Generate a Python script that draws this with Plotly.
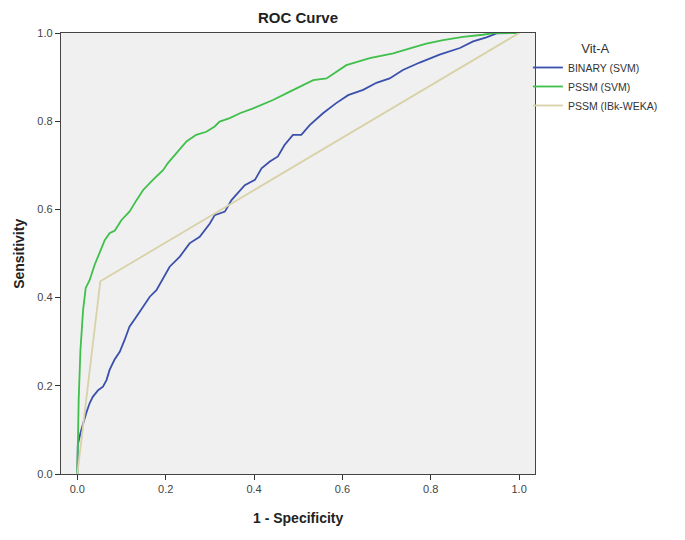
import plotly.graph_objects as go

# ---- data ----
binary_fpr = [0.0, 0.001, 0.007, 0.013, 0.02, 0.028, 0.035, 0.047, 0.058, 0.066, 0.073, 0.084,
              0.096, 0.107, 0.118, 0.134, 0.149, 0.164, 0.179, 0.194, 0.209, 0.232, 0.254,
              0.277, 0.3, 0.311, 0.334, 0.349, 0.368, 0.379, 0.402, 0.417, 0.435, 0.454,
              0.469, 0.488, 0.507, 0.526, 0.556, 0.586, 0.613, 0.647, 0.677, 0.707, 0.737,
              0.775, 0.82, 0.866, 0.896, 0.926, 0.949, 0.994, 1.0]
binary_tpr = [0.0, 0.066, 0.093, 0.116, 0.138, 0.161, 0.175, 0.19, 0.198, 0.213, 0.236, 0.259,
              0.277, 0.304, 0.334, 0.357, 0.379, 0.402, 0.417, 0.444, 0.47, 0.493, 0.523,
              0.538, 0.568, 0.587, 0.595, 0.621, 0.644, 0.655, 0.667, 0.693, 0.708, 0.72,
              0.746, 0.769, 0.769, 0.791, 0.818, 0.841, 0.859, 0.871, 0.887, 0.897, 0.916,
              0.933, 0.951, 0.966, 0.981, 0.99, 0.999, 1.0, 1.0]

pssm_svm_fpr = [0.0, 0.003, 0.007, 0.013, 0.019, 0.028, 0.039, 0.05, 0.062, 0.073, 0.085,
                0.1, 0.118, 0.134, 0.149, 0.171, 0.194, 0.205, 0.224, 0.247, 0.269, 0.292,
                0.311, 0.322, 0.345, 0.368, 0.398, 0.443, 0.481, 0.534, 0.564, 0.586, 0.609,
                0.662, 0.715, 0.753, 0.79, 0.828, 0.873, 0.918, 0.941, 1.0]
pssm_svm_tpr = [0.0, 0.168, 0.281, 0.372, 0.422, 0.44, 0.474, 0.5, 0.53, 0.546, 0.552,
                0.576, 0.595, 0.621, 0.644, 0.667, 0.689, 0.705, 0.727, 0.754, 0.769, 0.776,
                0.788, 0.799, 0.807, 0.818, 0.829, 0.848, 0.867, 0.893, 0.897, 0.912, 0.927,
                0.943, 0.954, 0.965, 0.976, 0.984, 0.991, 0.996, 1.0, 1.0]

ibk_fpr = [0.0, 0.052, 1.0]
ibk_tpr = [0.0, 0.437, 1.0]

series_names = ["BINARY (SVM)", "PSSM (SVM)", "PSSM (IBk-WEKA)"]
series_colors = ["#3B50AC", "#3FBF4B", "#D8D2A8"]
tick_vals = [0.0, 0.2, 0.4, 0.6, 0.8, 1.0]
tick_text = ["0.0", "0.2", "0.4", "0.6", "0.8", "1.0"]

FONT = "Arial, 'Liberation Sans', sans-serif"

fig = go.Figure()
for xs, ys, name, color in [
    (binary_fpr, binary_tpr, series_names[0], series_colors[0]),
    (pssm_svm_fpr, pssm_svm_tpr, series_names[1], series_colors[1]),
    (ibk_fpr, ibk_tpr, series_names[2], series_colors[2]),
]:
    fig.add_trace(go.Scatter(x=xs, y=ys, mode="lines", name=name,
                             line=dict(color=color, width=1.8)))

axis_common = dict(
    tickvals=tick_vals, ticktext=tick_text, ticks="outside", ticklen=5,
    tickcolor="#333", tickwidth=1.2, showline=True, linecolor="#444", linewidth=1.3,
    mirror=True, showgrid=False, zeroline=False,
    tickfont=dict(family=FONT, size=11, color="#444"),
)

# page body has an 8px margin, so the figure is sized to fit the window
W, H = 677, 532
fig.update_layout(
    width=W, height=H,
    margin=dict(l=53, r=150, t=25, b=66),
    paper_bgcolor="white", plot_bgcolor="#F0F0F0",
    title=dict(text="<b>ROC Curve</b>", x=290 / W, xanchor="center", y=1 - 10 / H,
               yanchor="middle", font=dict(family=FONT, size=15, color="#222")),
    xaxis=dict(range=[-0.037, 1.036], **axis_common),
    yaxis=dict(range=[0, 1], **axis_common),
    showlegend=True,
    legend=dict(x=0.985, xanchor="left", y=0.993, yanchor="top",
                title=dict(text="Vit-A", side="top center",
                           font=dict(family=FONT, size=13, color="#333")),
                font=dict(family=FONT, size=10.5, color="#333"),
                itemwidth=30, bgcolor="rgba(0,0,0,0)", tracegroupgap=0),
    annotations=[
        dict(text="<b>1 - Specificity</b>", xref="paper", yref="paper", x=0.5, y=-0.1,
             xanchor="center", yanchor="middle", showarrow=False,
             font=dict(family=FONT, size=14, color="#222")),
        dict(text="<b>Sensitivity</b>", xref="paper", yref="paper", x=-0.09, y=0.5,
             xanchor="center", yanchor="middle", textangle=-90, showarrow=False,
             font=dict(family=FONT, size=14, color="#222")),
    ],
)

fig.write_html("out.html")
